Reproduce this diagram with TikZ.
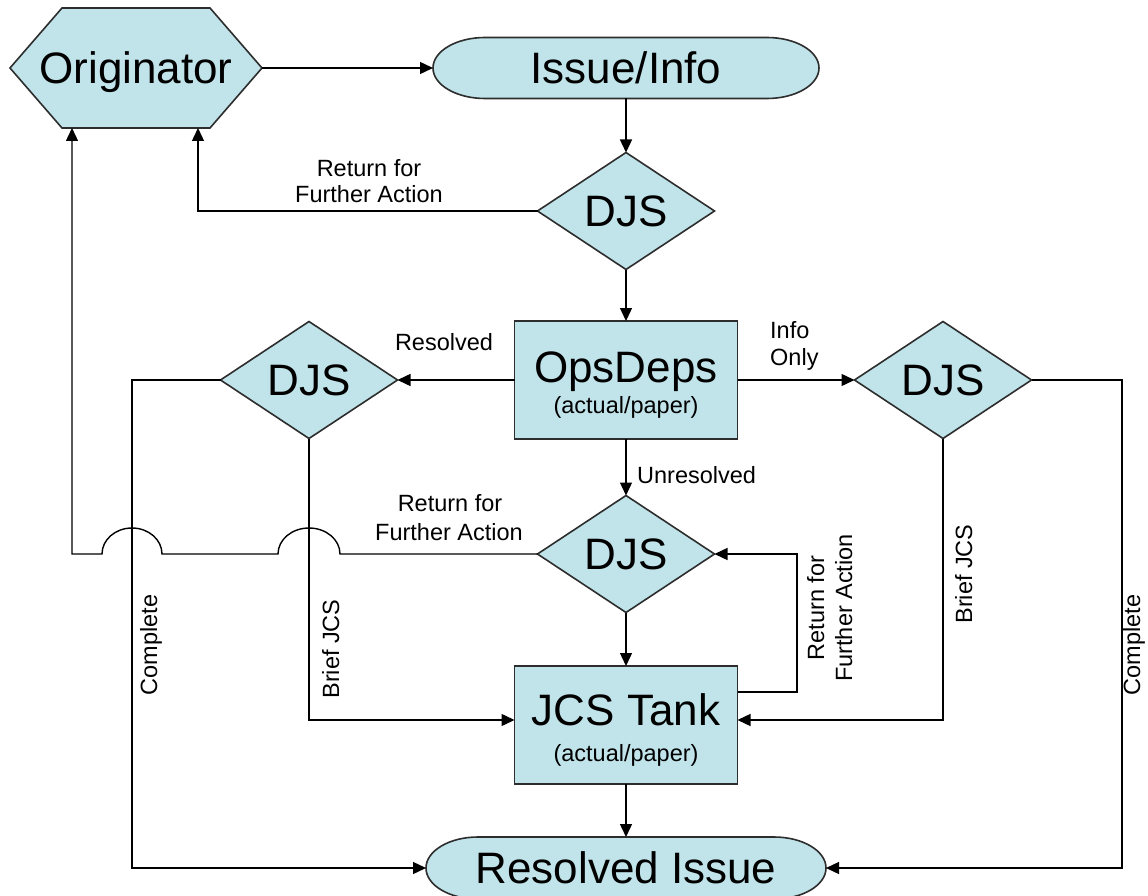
\documentclass[tikz,border=0pt]{standalone}
\usepackage{fontspec}
\setmainfont{Liberation Sans}
\usetikzlibrary{shapes.geometric,arrows.meta,backgrounds}
\definecolor{shapefill}{RGB}{192,228,234}
\definecolor{shapeline}{RGB}{45,45,45}
\begin{document}
\begin{tikzpicture}[x=1pt,y=-1pt,
  bigfont/.style={font=\fontsize{44}{48}\selectfont},
  smallfont/.style={font=\fontsize{23.5}{27}\selectfont},
  shapeborder/.style={fill=shapefill,draw=shapeline,line width=1.6pt},
  holder/.style={inner sep=0pt,outer sep=0pt,bigfont,text height=31.5pt,text depth=0pt},
  decision/.style={diamond,shapeborder,holder,minimum width=177pt,minimum height=117pt},
  procbox/.style={rectangle,shapeborder,inner sep=0pt,outer sep=0pt,minimum width=223pt,minimum height=118pt},
  conn/.style={line width=1.4pt,draw=black},
  arr/.style={conn,-{Triangle[length=13pt,width=12pt]}},
  lbl/.style={smallfont,inner sep=0pt,anchor=base},
  vlbl/.style={smallfont,inner sep=0pt,anchor=base,rotate=90},
]
\useasboundingbox (0,0) rectangle (1148,896);

% nodes
\node[holder,minimum width=252pt,minimum height=120pt] (orig) at (136,68) {Originator};
\node[holder,minimum width=386pt,minimum height=61pt] (issue) at (626,68) {Issue/Info};
\node[decision] (djs1) at (626,211) {DJS};
\node[procbox] (ops) at (626,380) {};
\node[bigfont,anchor=base,inner sep=0pt] (opsT) at (626,382) {OpsDeps};
\node[smallfont,anchor=base,inner sep=0pt] (opsS) at (626,413) {(actual/paper)};
\node[decision] (djs2) at (309,380) {DJS};
\node[decision] (djs3) at (943,380) {DJS};
\node[decision] (djs4) at (626,554) {DJS};
\node[procbox] (jcs) at (626,725) {};
\node[bigfont,anchor=base,inner sep=0pt] (jcsT) at (626,725) {JCS Tank};
\node[smallfont,anchor=base,inner sep=0pt] (jcsS) at (626,761) {(actual/paper)};
\node[holder,minimum width=400pt,minimum height=62pt] (res) at (626,868) {Resolved Issue};

% outlines of hexagon and terminators
\begin{scope}[on background layer]
\fill[white] (0,0) rectangle (1148,896);
\path[shapeborder] (orig.west) -- ([xshift=52pt]orig.north west) -- ([xshift=-52pt]orig.north east)
  -- (orig.east) -- ([xshift=-52pt]orig.south east) -- ([xshift=52pt]orig.south west) -- cycle;
\path[shapeborder] ([xshift=52pt]issue.north west) -- ([xshift=-52pt]issue.north east)
  arc[start angle=90,end angle=-90,x radius=52pt,y radius=30.5pt]
  -- ([xshift=52pt]issue.south west)
  arc[start angle=270,end angle=90,x radius=52pt,y radius=30.5pt] -- cycle;
\path[shapeborder] ([xshift=52pt]res.north west) -- ([xshift=-52pt]res.north east)
  arc[start angle=90,end angle=-90,x radius=52pt,y radius=31pt]
  -- ([xshift=52pt]res.south west)
  arc[start angle=270,end angle=90,x radius=52pt,y radius=31pt] -- cycle;
\end{scope}

% helper coordinates
\coordinate (o1) at ([xshift=-64pt]orig.south);
\coordinate (o2) at ([xshift=62pt]orig.south);
\coordinate (lc) at (132,868);
\coordinate (rc) at (1122,868);
\coordinate (rl) at (797,554);
\coordinate (h2) at (djs2.south |- djs4.west);
\coordinate (h1) at (lc |- djs4.west);

% connectors
\draw[arr] (orig.east) -- (issue.west);
\draw[arr] (issue.south) -- (djs1.north);
\draw[arr] (djs1.west) -| (o2);
\draw[arr] (djs1.south) -- (ops.north);
\draw[arr] (ops.west) -- (djs2.east);
\draw[arr] (ops.east) -- (djs3.west);
\draw[arr] (ops.south) -- (djs4.north);
\draw[arr] (djs4.south) -- (jcs.north);
\draw[arr] (jcs.south) -- (res.north);
\draw[arr] (djs2.west) -| (lc) -- (res.west);
\draw[arr] (djs3.east) -| (rc) -- (res.east);
\draw[arr] (djs2.south) |- ([yshift=5pt]jcs.west);
\draw[arr] (djs3.south) |- ([yshift=5pt]jcs.east);
\draw[arr] ([yshift=33pt]jcs.east) -| (rl) -- (djs4.east);
\draw[arr] (djs4.west) -- ([xshift=31pt]h2)
  arc[start angle=0,end angle=180,x radius=31pt,y radius=26pt]
  -- ([xshift=30pt]h1)
  arc[start angle=0,end angle=180,x radius=30pt,y radius=26pt]
  -- (o1 |- djs4.west) -- (o1);

% labels
\node[lbl] (r1a) at (369,177) {Return for};
\node[lbl] (r1b) at (369,203) {Further Action};
\node[lbl] (resl) at (444,350) {Resolved};
\node[lbl,anchor=base west] (infoa) at (770,338) {Info};
\node[lbl,anchor=base west] (infob) at (770,365) {Only};
\node[lbl,anchor=base west] (unres) at (637,483) {Unresolved};
\node[lbl] (r2a) at (450,511) {Return for};
\node[lbl] (r2b) at (449,540) {Further Action};
\node[vlbl] (cl) at (157,645) {Complete};
\node[vlbl] (bl) at (339,649) {Brief JCS};
\node[vlbl] (r3a) at (824,608) {Return for};
\node[vlbl] (r3b) at (852,608) {Further Action};
\node[vlbl] (br) at (972,574) {Brief JCS};
\node[vlbl] (cr) at (1140,645) {Complete};
\end{tikzpicture}
\end{document}
